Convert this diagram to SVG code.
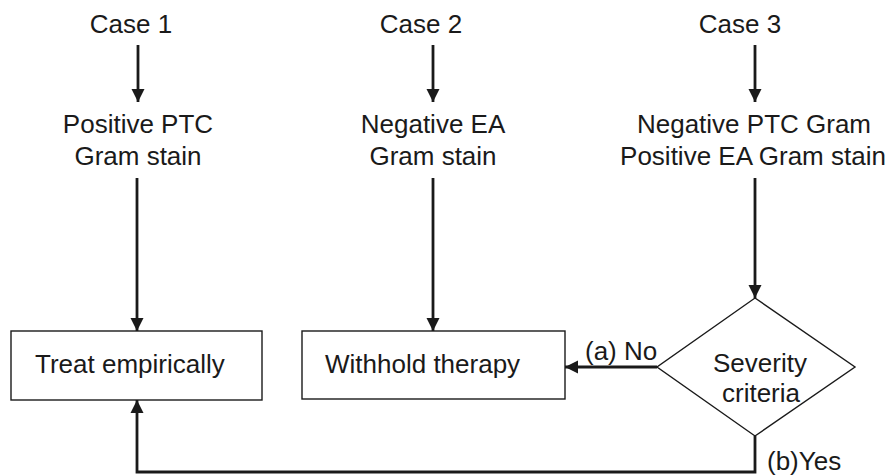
<svg xmlns="http://www.w3.org/2000/svg" width="891" height="475" viewBox="0 0 891 475">
<style>
text{font-family:"Liberation Sans",Arial,sans-serif;font-size:26px;fill:#1a1a1a}
.c{text-anchor:middle}
.box{fill:#fff;stroke:#1a1a1a;stroke-width:1.4}
.conn{fill:none;stroke:#1a1a1a;stroke-width:2.8}
</style>
<defs>
<marker id="ah" markerUnits="userSpaceOnUse" markerWidth="14" markerHeight="14" viewBox="0 0 14 14" refX="13" refY="7" orient="auto">
<path d="M0,0.5 L13,7 L0,13.5 Z" fill="#1a1a1a"/>
</marker>
</defs>
<rect width="891" height="475" fill="#fff"/>
<g id="case1"><text class="c" x="131" y="33">Case 1</text></g>
<g id="case2"><text class="c" x="421" y="33">Case 2</text></g>
<g id="case3"><text class="c" x="740" y="33">Case 3</text></g>
<g id="pos-ptc"><text class="c" x="138" y="133">Positive PTC</text><text class="c" x="138" y="165">Gram stain</text></g>
<g id="neg-ea"><text class="c" x="433" y="133">Negative EA</text><text class="c" x="433" y="165">Gram stain</text></g>
<g id="neg-ptc"><text class="c" x="754" y="133">Negative PTC Gram</text><text class="c" x="753" y="165">Positive EA Gram stain</text></g>
<g id="treat"><rect class="box" x="11" y="331" width="251" height="69"/><text x="35" y="373">Treat empirically</text></g>
<g id="withhold"><rect class="box" x="302" y="331" width="263" height="68"/><text x="325" y="373">Withhold therapy</text></g>
<g id="severity"><polygon class="box" points="755,298 855,367 755,436 657,367"/><text class="c" x="760" y="372">Severity</text><text class="c" x="761" y="402">criteria</text></g>
<g id="connectors">
<line class="conn" x1="138" y1="45" x2="138" y2="102" marker-end="url(#ah)"/>
<line class="conn" x1="433" y1="45" x2="433" y2="102" marker-end="url(#ah)"/>
<line class="conn" x1="755" y1="45" x2="755" y2="102" marker-end="url(#ah)"/>
<line class="conn" x1="137" y1="178" x2="137" y2="331" marker-end="url(#ah)"/>
<line class="conn" x1="433" y1="178" x2="433" y2="331" marker-end="url(#ah)"/>
<line class="conn" x1="755" y1="178" x2="755" y2="298" marker-end="url(#ah)"/>
<line class="conn" x1="657" y1="367" x2="565" y2="367" marker-end="url(#ah)"/>
<polyline class="conn" points="755,436 755,472 137,472 137,400" marker-end="url(#ah)"/>
<text x="585" y="360">(a) No</text>
<text x="767" y="470">(b)Yes</text>
</g>
</svg>
